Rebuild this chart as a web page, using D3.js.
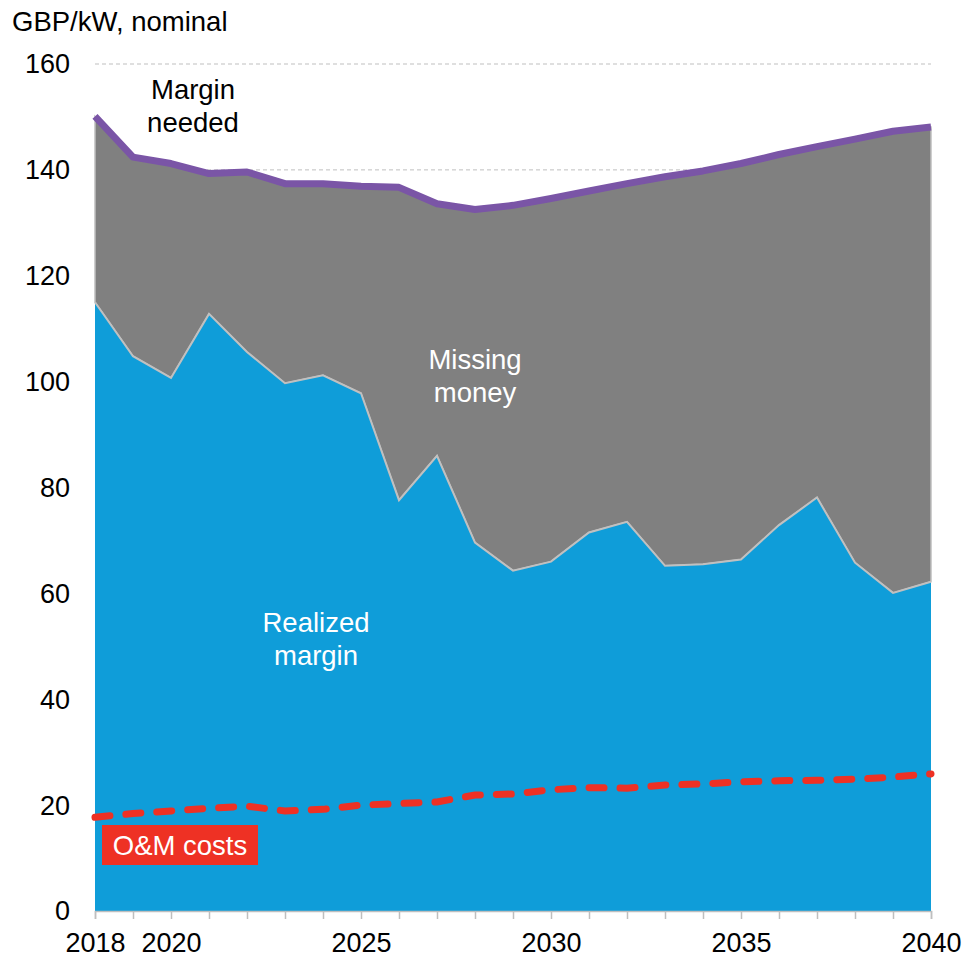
<!DOCTYPE html>
<html>
<head>
<meta charset="utf-8">
<script src="https://cdn.jsdelivr.net/npm/d3@7"></script>
<style>
  body { margin: 0; background: #fff; }
  svg { font-family: "Liberation Sans", Arial, sans-serif; }
</style>
</head>
<body>
<svg id="chart"></svg>
<script>
const years = d3.range(2018, 2041);
const marginNeeded = [150.1, 142.4, 141.2, 139.3, 139.6, 137.4, 137.4, 136.9, 136.7, 133.6, 132.5, 133.3,
  134.6, 136.0, 137.4, 138.7, 139.8, 141.2, 142.9, 144.4, 145.8, 147.3, 148.1];
const realizedMargin = [115.0, 104.8, 100.7, 112.8, 105.6, 99.7, 101.2, 97.8, 77.6, 86.0, 69.6, 64.3,
  66.0, 71.5, 73.5, 65.2, 65.5, 66.4, 72.9, 78.1, 65.8, 60.1, 62.2];
const omCosts = [17.7, 18.4, 18.9, 19.4, 19.8, 18.9, 19.2, 20.0, 20.3, 20.6, 21.9, 22.1,
  22.9, 23.3, 23.2, 23.8, 24.0, 24.4, 24.6, 24.7, 24.9, 25.3, 25.9];
const yTicks = [0, 20, 40, 60, 80, 100, 120, 140, 160];
const xLabels = [2018, 2020, 2025, 2030, 2035, 2040];

const width = 969, height = 960;
const margin = { top: 64, right: 38, bottom: 49, left: 95 };

const svg = d3.select("#chart").attr("width", width).attr("height", height);

const x = d3.scaleLinear()
  .domain([2018, 2040])
  .range([margin.left, width - margin.right]);

const y = d3.scaleLinear()
  .domain([0, 160])
  .range([height - margin.bottom, margin.top]);

const data = years.map((yr, i) => ({
  year: yr, needed: marginNeeded[i], realized: realizedMargin[i], om: omCosts[i]
}));

// gridlines
svg.append("g")
  .selectAll("line")
  .data(yTicks.filter(d => d > 0))
  .join("line")
  .attr("x1", x(2018))
  .attr("x2", x(2040))
  .attr("y1", d => y(d))
  .attr("y2", d => y(d))
  .attr("stroke", "#bfbfbf")
  .attr("stroke-width", 1)
  .attr("stroke-dasharray", "4,3");

// missing money (gray) area
svg.append("path")
  .datum(data)
  .attr("fill", "#808080")
  .attr("stroke", "#bfbfbf")
  .attr("stroke-width", 1.5)
  .attr("d", d3.area()
    .x(d => x(d.year))
    .y0(d => y(d.realized))
    .y1(d => y(d.needed)));

// realized margin (blue) area
svg.append("path")
  .datum(data)
  .attr("fill", "#0f9dd9")
  .attr("d", d3.area()
    .x(d => x(d.year))
    .y0(y(0))
    .y1(d => y(d.realized)));

// boundary line
svg.append("path")
  .datum(data)
  .attr("fill", "none")
  .attr("stroke", "#c0c0c0")
  .attr("stroke-width", 2)
  .attr("d", d3.line().x(d => x(d.year)).y(d => y(d.realized)));

// margin needed line
svg.append("path")
  .datum(data)
  .attr("fill", "none")
  .attr("stroke", "#7a55a6")
  .attr("stroke-width", 7)
  .attr("stroke-linejoin", "round")
  .attr("d", d3.line().x(d => x(d.year)).y(d => y(d.needed)));

// O&M costs dashed line
svg.append("path")
  .datum(data)
  .attr("fill", "none")
  .attr("stroke", "#ee3124")
  .attr("stroke-width", 7)
  .attr("stroke-linecap", "round")
  .attr("stroke-dasharray", "15,16")
  .attr("d", d3.line().x(d => x(d.year)).y(d => y(d.om)));

// X Axis
const xAxis = svg.append("g")
  .attr("transform", `translate(0,${y(0)})`)
  .call(d3.axisBottom(x).tickValues(years).tickSize(8).tickFormat(d => xLabels.includes(d) ? d : ""));
xAxis.select(".domain").attr("stroke", "#bfbfbf").attr("stroke-width", 1.5);
xAxis.selectAll(".tick line").attr("stroke", "#bfbfbf").attr("stroke-width", 1.5);
xAxis.selectAll(".tick text")
  .attr("font-size", 27)
  .attr("font-family", "Liberation Sans, Arial, sans-serif")
  .attr("fill", "#000")
  .attr("y", 11)
  .attr("dy", 30);

// Y Axis labels
svg.append("g")
  .selectAll("text")
  .data(yTicks)
  .join("text")
  .attr("x", 70)
  .attr("y", d => y(d))
  .attr("dy", "0.35em")
  .attr("text-anchor", "end")
  .attr("font-size", 27)
  .attr("fill", "#000")
  .text(d => d);

// unit label
svg.append("text")
  .attr("x", 12)
  .attr("y", 31)
  .attr("font-size", 27.5)
  .attr("fill", "#000")
  .text("GBP/kW, nominal");

// in-chart labels
function label(lines, cx, cy, color) {
  svg.append("text")
    .attr("x", cx)
    .attr("y", cy)
    .attr("text-anchor", "middle")
    .attr("font-size", 27.5)
    .attr("fill", color)
    .selectAll("tspan")
    .data(lines)
    .join("tspan")
    .attr("x", cx)
    .attr("dy", (d, i) => i === 0 ? 0 : 33)
    .text(d => d);
}
label(["Margin", "needed"], 193, 99, "#000");
label(["Missing", "money"], 475, 369, "#fff");
label(["Realized", "margin"], 316, 632, "#fff");

// O&M label box
svg.append("rect")
  .attr("x", 102)
  .attr("y", 825)
  .attr("width", 156)
  .attr("height", 40)
  .attr("fill", "#ee3124");
svg.append("text")
  .attr("x", 180)
  .attr("y", 855)
  .attr("text-anchor", "middle")
  .attr("font-size", 27.5)
  .attr("fill", "#fff")
  .text("O&M costs");
</script>
</body>
</html>
